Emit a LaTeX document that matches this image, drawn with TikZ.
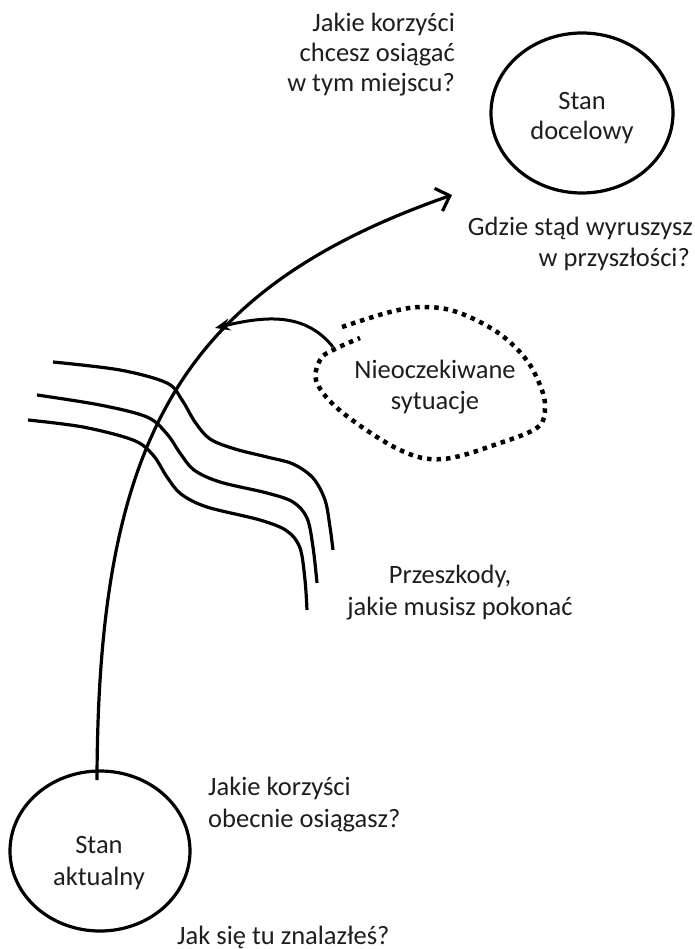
\documentclass[tikz,border=0pt]{standalone}
\usepackage{fontspec}
\setmainfont{Carlito}
\usetikzlibrary{arrows.meta,shapes.geometric}
\definecolor{txtc}{HTML}{1E1E1E}
\begin{document}
\begin{tikzpicture}[x=1pt,y=-1pt,
  txt/.style={font=\fontsize{26.5}{31}\selectfont, text=txtc, inner sep=0pt},
  state/.style={ellipse, draw, line width=3.2pt, inner sep=0pt},
  thk/.style={line width=3.2pt},
  dots/.style={line width=4.5pt, dash pattern=on 4.5pt off 5pt},
]
\useasboundingbox[fill=white] (0,0) rectangle (695,949);

% states
\node[state, minimum width=182pt, minimum height=160pt] (goal) at (582,113) {};
\node[state, minimum width=180pt, minimum height=160pt] (now) at (100,851) {};
\node[txt, anchor=base] (goalA) at (582,110) {Stan};
\node[txt, anchor=base] (goalB) at (582,140) {docelowy};
\node[txt, anchor=base] (nowA) at (99,853) {Stan};
\node[txt, anchor=base] (nowB) at (99,885) {aktualny};

% questions near the goal
\node[txt, anchor=base east] (qa1) at (455,32) {Jakie korzyści};
\node[txt, anchor=base east] (qa2) at (455,62) {chcesz osiągać};
\node[txt, anchor=base east] (qa3) at (455,92) {w tym miejscu?};
\node[txt, anchor=base east] (qb1) at (693,236) {Gdzie stąd wyruszysz};
\node[txt, anchor=base east] (qb2) at (690,266) {w przyszłości?};

% questions near the start
\node[txt, anchor=base west] (qc1) at (208,795) {Jakie korzyści};
\node[txt, anchor=base west] (qc2) at (208,827) {obecnie osiągasz?};
\node[txt, anchor=base west] (qd) at (177,944) {Jak się tu znalazłeś?};

% obstacles label
\node[txt, anchor=base] (ob1) at (450,583) {Przeszkody,};
\node[txt, anchor=base] (ob2) at (460,615) {jakie musisz pokonać};

% unexpected situations
\node[txt, anchor=base] (un1) at (435,378) {Nieoczekiwane};
\node[txt, anchor=base] (un2) at (435,409) {sytuacje};
\draw[dots] plot[smooth, tension=0.6] coordinates {(342,327) (390,312) (423,307) (457,312) (497,332) (525,358) (540,385) (545,407) (538,427) (500,443) (443,459) (400,450) (343,413) (317,383) (320,360) (333,350) (360,338)};

% obstacles
\draw[thk] plot[smooth, tension=0.55] coordinates {(53,362) (120,370) (167,383) (182,400) (195,422) (210,439) (235,449) (267,457) (293,464) (313,478) (325,500) (330,527) (333,550)};
\draw[thk] plot[smooth, tension=0.55] coordinates {(37,395) (100,405) (147,417) (167,434) (180,453) (194,470) (220,482) (267,493) (293,502) (307,518) (313,547) (317,583)};
\draw[thk] plot[smooth, tension=0.55] coordinates {(28,420) (83,427) (133,440) (153,455) (167,477) (181,494) (207,507) (260,520) (287,531) (300,548) (305,580) (307,610)};

% main path
\coordinate (start) at (97,780);
\coordinate (end) at (452,195);
\draw[thk, -{Straight Barb[length=12pt,width=24pt]}] (start) .. controls (98,440) and (180,290) .. (end);

% unexpected arrow
\coordinate (cl) at (333,347);
\coordinate (hit) at (215,328);
\draw[line width=3pt, -{Stealth[length=15pt,width=12pt]}] (cl) .. controls (305,312) and (265,316) .. (hit);
\end{tikzpicture}
\end{document}
